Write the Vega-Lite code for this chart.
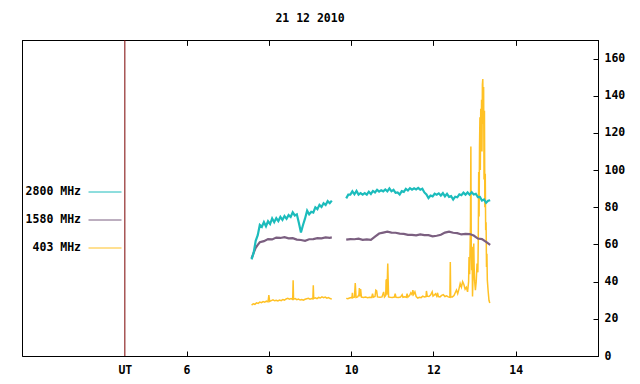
{
"$schema":"https://vega.github.io/schema/vega-lite/v6.json",
"width":576,"height":316,
"autosize":{"type":"none"},
"padding":{"left":22,"top":40,"right":42,"bottom":28},
"background":"white",
"title":{"text":"21 12 2010","anchor":"middle","frame":"group","offset":15,"fontSize":11.5,"font":"DejaVu Sans Mono","fontWeight":"bold","color":"black"},
"config":{
"view":{"stroke":"black","strokeWidth":1},
"axis":{"labelFont":"DejaVu Sans Mono","labelFontSize":11.5,"labelFontWeight":"bold","labelColor":"black","domainColor":"black","tickColor":"black","grid":false,"title":null,"labelOverlap":false,"labelFlush":false},
"legend":{"orient":"none","legendX":66,"legendY":135,"title":null,"symbolType":"stroke","symbolSize":1089,"symbolStrokeWidth":1,"labelAlign":"right","labelOffset":-41,"rowPadding":5,"padding":0,"labelFont":"DejaVu Sans Mono","labelFontSize":11.5,"labelFontWeight":"bold","labelColor":"black","labelBaseline":"middle"}
},
"data":{"values":[
{"f":"403 MHz","s":1,"t":7.58,"v":27.4},{"f":"403 MHz","s":1,"t":7.62,"v":28.1},{"f":"403 MHz","s":1,"t":7.66,"v":27.8},{"f":"403 MHz","s":1,"t":7.70,"v":28.6},{"f":"403 MHz","s":1,"t":7.74,"v":28.3},{"f":"403 MHz","s":1,"t":7.78,"v":29},{"f":"403 MHz","s":1,"t":7.82,"v":28.7},{"f":"403 MHz","s":1,"t":7.86,"v":29.3},{"f":"403 MHz","s":1,"t":7.90,"v":29},{"f":"403 MHz","s":1,"t":7.94,"v":29.5},{"f":"403 MHz","s":1,"t":7.98,"v":29.2},{"f":"403 MHz","s":1,"t":8.00,"v":32.7},{"f":"403 MHz","s":1,"t":8.02,"v":29.4},{"f":"403 MHz","s":1,"t":8.06,"v":29.8},{"f":"403 MHz","s":1,"t":8.10,"v":30.2},{"f":"403 MHz","s":1,"t":8.14,"v":29.7},{"f":"403 MHz","s":1,"t":8.18,"v":30},{"f":"403 MHz","s":1,"t":8.22,"v":29.6},{"f":"403 MHz","s":1,"t":8.26,"v":30.1},{"f":"403 MHz","s":1,"t":8.30,"v":29.8},{"f":"403 MHz","s":1,"t":8.34,"v":30.4},{"f":"403 MHz","s":1,"t":8.38,"v":30.1},{"f":"403 MHz","s":1,"t":8.42,"v":30.7},{"f":"403 MHz","s":1,"t":8.46,"v":31},{"f":"403 MHz","s":1,"t":8.50,"v":30.6},{"f":"403 MHz","s":1,"t":8.54,"v":30.9},{"f":"403 MHz","s":1,"t":8.58,"v":30.4},{"f":"403 MHz","s":1,"t":8.59,"v":40.8},{"f":"403 MHz","s":1,"t":8.60,"v":30.6},{"f":"403 MHz","s":1,"t":8.64,"v":30.9},{"f":"403 MHz","s":1,"t":8.68,"v":30.3},{"f":"403 MHz","s":1,"t":8.72,"v":30.6},{"f":"403 MHz","s":1,"t":8.76,"v":30.1},{"f":"403 MHz","s":1,"t":8.80,"v":30.4},{"f":"403 MHz","s":1,"t":8.84,"v":30},{"f":"403 MHz","s":1,"t":8.88,"v":30.5},{"f":"403 MHz","s":1,"t":8.92,"v":30.8},{"f":"403 MHz","s":1,"t":8.96,"v":31},{"f":"403 MHz","s":1,"t":9.00,"v":30.6},{"f":"403 MHz","s":1,"t":9.04,"v":30.9},{"f":"403 MHz","s":1,"t":9.07,"v":30.7},{"f":"403 MHz","s":1,"t":9.08,"v":38},{"f":"403 MHz","s":1,"t":9.09,"v":31},{"f":"403 MHz","s":1,"t":9.13,"v":31.3},{"f":"403 MHz","s":1,"t":9.17,"v":30.9},{"f":"403 MHz","s":1,"t":9.21,"v":31.5},{"f":"403 MHz","s":1,"t":9.25,"v":31.2},{"f":"403 MHz","s":1,"t":9.29,"v":31.8},{"f":"403 MHz","s":1,"t":9.33,"v":31.4},{"f":"403 MHz","s":1,"t":9.37,"v":31.7},{"f":"403 MHz","s":1,"t":9.41,"v":31.1},{"f":"403 MHz","s":1,"t":9.45,"v":31.4},{"f":"403 MHz","s":1,"t":9.49,"v":30.9},{"f":"403 MHz","s":1,"t":9.53,"v":30.6},
{"f":"403 MHz","s":2,"t":9.88,"v":31},{"f":"403 MHz","s":2,"t":9.92,"v":30.8},{"f":"403 MHz","s":2,"t":9.96,"v":31.2},{"f":"403 MHz","s":2,"t":10.00,"v":31.5},{"f":"403 MHz","s":2,"t":10.02,"v":31.3},{"f":"403 MHz","s":2,"t":10.03,"v":34},{"f":"403 MHz","s":2,"t":10.04,"v":31.4},{"f":"403 MHz","s":2,"t":10.08,"v":31.6},{"f":"403 MHz","s":2,"t":10.10,"v":39.3},{"f":"403 MHz","s":2,"t":10.12,"v":31.5},{"f":"403 MHz","s":2,"t":10.16,"v":31.8},{"f":"403 MHz","s":2,"t":10.19,"v":33},{"f":"403 MHz","s":2,"t":10.20,"v":36.6},{"f":"403 MHz","s":2,"t":10.21,"v":32},{"f":"403 MHz","s":2,"t":10.23,"v":36},{"f":"403 MHz","s":2,"t":10.25,"v":31.7},{"f":"403 MHz","s":2,"t":10.30,"v":31.5},{"f":"403 MHz","s":2,"t":10.35,"v":31.7},{"f":"403 MHz","s":2,"t":10.40,"v":31.4},{"f":"403 MHz","s":2,"t":10.45,"v":31.6},{"f":"403 MHz","s":2,"t":10.50,"v":31.5},{"f":"403 MHz","s":2,"t":10.52,"v":33.5},{"f":"403 MHz","s":2,"t":10.54,"v":31.6},{"f":"403 MHz","s":2,"t":10.58,"v":32},{"f":"403 MHz","s":2,"t":10.60,"v":35.4},{"f":"403 MHz","s":2,"t":10.62,"v":35},{"f":"403 MHz","s":2,"t":10.64,"v":31.8},{"f":"403 MHz","s":2,"t":10.70,"v":31.6},{"f":"403 MHz","s":2,"t":10.75,"v":31.8},{"f":"403 MHz","s":2,"t":10.79,"v":34.5},{"f":"403 MHz","s":2,"t":10.81,"v":31.7},{"f":"403 MHz","s":2,"t":10.84,"v":32.5},{"f":"403 MHz","s":2,"t":10.85,"v":40.8},{"f":"403 MHz","s":2,"t":10.86,"v":41},{"f":"403 MHz","s":2,"t":10.87,"v":33},{"f":"403 MHz","s":2,"t":10.89,"v":49.7},{"f":"403 MHz","s":2,"t":10.91,"v":31.8},{"f":"403 MHz","s":2,"t":10.95,"v":31.6},{"f":"403 MHz","s":2,"t":11.00,"v":31.5},{"f":"403 MHz","s":2,"t":11.05,"v":31.7},{"f":"403 MHz","s":2,"t":11.07,"v":33.5},{"f":"403 MHz","s":2,"t":11.09,"v":31.6},{"f":"403 MHz","s":2,"t":11.15,"v":31.5},{"f":"403 MHz","s":2,"t":11.20,"v":31.7},{"f":"403 MHz","s":2,"t":11.24,"v":33},{"f":"403 MHz","s":2,"t":11.26,"v":31.6},{"f":"403 MHz","s":2,"t":11.30,"v":31.8},{"f":"403 MHz","s":2,"t":11.34,"v":31.6},{"f":"403 MHz","s":2,"t":11.36,"v":33.5},{"f":"403 MHz","s":2,"t":11.38,"v":31.7},{"f":"403 MHz","s":2,"t":11.42,"v":32.5},{"f":"403 MHz","s":2,"t":11.45,"v":34},{"f":"403 MHz","s":2,"t":11.48,"v":33},{"f":"403 MHz","s":2,"t":11.50,"v":35.4},{"f":"403 MHz","s":2,"t":11.52,"v":33.2},{"f":"403 MHz","s":2,"t":11.55,"v":34.5},{"f":"403 MHz","s":2,"t":11.58,"v":32},{"f":"403 MHz","s":2,"t":11.62,"v":31.2},{"f":"403 MHz","s":2,"t":11.66,"v":31.6},{"f":"403 MHz","s":2,"t":11.70,"v":31.4},{"f":"403 MHz","s":2,"t":11.74,"v":32.2},{"f":"403 MHz","s":2,"t":11.78,"v":31.8},{"f":"403 MHz","s":2,"t":11.82,"v":32},{"f":"403 MHz","s":2,"t":11.83,"v":35},{"f":"403 MHz","s":2,"t":11.85,"v":32.2},{"f":"403 MHz","s":2,"t":11.89,"v":32},{"f":"403 MHz","s":2,"t":11.93,"v":32.8},{"f":"403 MHz","s":2,"t":11.97,"v":34.5},{"f":"403 MHz","s":2,"t":11.99,"v":32.2},{"f":"403 MHz","s":2,"t":12.03,"v":33},{"f":"403 MHz","s":2,"t":12.05,"v":33.5},{"f":"403 MHz","s":2,"t":12.08,"v":32.2},{"f":"403 MHz","s":2,"t":12.10,"v":34},{"f":"403 MHz","s":2,"t":12.12,"v":32},{"f":"403 MHz","s":2,"t":12.16,"v":31.8},{"f":"403 MHz","s":2,"t":12.20,"v":32.6},{"f":"403 MHz","s":2,"t":12.24,"v":33},{"f":"403 MHz","s":2,"t":12.28,"v":32},{"f":"403 MHz","s":2,"t":12.32,"v":32.4},{"f":"403 MHz","s":2,"t":12.36,"v":31.8},{"f":"403 MHz","s":2,"t":12.40,"v":31.6},{"f":"403 MHz","s":2,"t":12.41,"v":50.5},{"f":"403 MHz","s":2,"t":12.42,"v":31.8},{"f":"403 MHz","s":2,"t":12.46,"v":31.8},{"f":"403 MHz","s":2,"t":12.50,"v":32.5},{"f":"403 MHz","s":2,"t":12.53,"v":34},{"f":"403 MHz","s":2,"t":12.56,"v":35.5},{"f":"403 MHz","s":2,"t":12.59,"v":33.5},{"f":"403 MHz","s":2,"t":12.62,"v":36},{"f":"403 MHz","s":2,"t":12.65,"v":39},{"f":"403 MHz","s":2,"t":12.68,"v":37},{"f":"403 MHz","s":2,"t":12.71,"v":40},{"f":"403 MHz","s":2,"t":12.74,"v":38.5},{"f":"403 MHz","s":2,"t":12.77,"v":36},{"f":"403 MHz","s":2,"t":12.80,"v":37},{"f":"403 MHz","s":2,"t":12.83,"v":34.5},{"f":"403 MHz","s":2,"t":12.855,"v":40},{"f":"403 MHz","s":2,"t":12.865,"v":53.3},{"f":"403 MHz","s":2,"t":12.88,"v":44},{"f":"403 MHz","s":2,"t":12.90,"v":70},{"f":"403 MHz","s":2,"t":12.91,"v":112.7},{"f":"403 MHz","s":2,"t":12.92,"v":58},{"f":"403 MHz","s":2,"t":12.93,"v":46.2},{"f":"403 MHz","s":2,"t":12.94,"v":58.8},{"f":"403 MHz","s":2,"t":12.95,"v":32},{"f":"403 MHz","s":2,"t":12.965,"v":45},{"f":"403 MHz","s":2,"t":12.98,"v":60.5},{"f":"403 MHz","s":2,"t":12.99,"v":48},{"f":"403 MHz","s":2,"t":13.00,"v":40.8},{"f":"403 MHz","s":2,"t":13.02,"v":35.4},{"f":"403 MHz","s":2,"t":13.04,"v":40},{"f":"403 MHz","s":2,"t":13.06,"v":49.7},{"f":"403 MHz","s":2,"t":13.08,"v":45},{"f":"403 MHz","s":2,"t":13.09,"v":62},{"f":"403 MHz","s":2,"t":13.10,"v":99},{"f":"403 MHz","s":2,"t":13.11,"v":75},{"f":"403 MHz","s":2,"t":13.12,"v":112},{"f":"403 MHz","s":2,"t":13.13,"v":128.5},{"f":"403 MHz","s":2,"t":13.14,"v":100},{"f":"403 MHz","s":2,"t":13.15,"v":133},{"f":"403 MHz","s":2,"t":13.16,"v":115},{"f":"403 MHz","s":2,"t":13.17,"v":137.8},{"f":"403 MHz","s":2,"t":13.18,"v":110},{"f":"403 MHz","s":2,"t":13.19,"v":146},{"f":"403 MHz","s":2,"t":13.20,"v":149},{"f":"403 MHz","s":2,"t":13.21,"v":125},{"f":"403 MHz","s":2,"t":13.22,"v":144.7},{"f":"403 MHz","s":2,"t":13.23,"v":95},{"f":"403 MHz","s":2,"t":13.24,"v":132},{"f":"403 MHz","s":2,"t":13.25,"v":80},{"f":"403 MHz","s":2,"t":13.26,"v":98},{"f":"403 MHz","s":2,"t":13.27,"v":67.6},{"f":"403 MHz","s":2,"t":13.28,"v":72},{"f":"403 MHz","s":2,"t":13.29,"v":47.9},{"f":"403 MHz","s":2,"t":13.30,"v":55},{"f":"403 MHz","s":2,"t":13.31,"v":40.8},{"f":"403 MHz","s":2,"t":13.33,"v":35},{"f":"403 MHz","s":2,"t":13.35,"v":30},{"f":"403 MHz","s":2,"t":13.37,"v":28.5},
{"f":"1580 MHz","s":1,"t":7.58,"v":52.5},{"f":"1580 MHz","s":1,"t":7.63,"v":55.5},{"f":"1580 MHz","s":1,"t":7.68,"v":58.2},{"f":"1580 MHz","s":1,"t":7.73,"v":59.8},{"f":"1580 MHz","s":1,"t":7.78,"v":61.2},{"f":"1580 MHz","s":1,"t":7.88,"v":61.8},{"f":"1580 MHz","s":1,"t":7.98,"v":62.9},{"f":"1580 MHz","s":1,"t":8.08,"v":62.7},{"f":"1580 MHz","s":1,"t":8.18,"v":63.7},{"f":"1580 MHz","s":1,"t":8.28,"v":63.5},{"f":"1580 MHz","s":1,"t":8.38,"v":63.9},{"f":"1580 MHz","s":1,"t":8.48,"v":63.3},{"f":"1580 MHz","s":1,"t":8.58,"v":63.4},{"f":"1580 MHz","s":1,"t":8.68,"v":62.6},{"f":"1580 MHz","s":1,"t":8.78,"v":62.4},{"f":"1580 MHz","s":1,"t":8.88,"v":62},{"f":"1580 MHz","s":1,"t":8.98,"v":62.8},{"f":"1580 MHz","s":1,"t":9.08,"v":62.9},{"f":"1580 MHz","s":1,"t":9.18,"v":63.4},{"f":"1580 MHz","s":1,"t":9.28,"v":63.3},{"f":"1580 MHz","s":1,"t":9.38,"v":63.8},{"f":"1580 MHz","s":1,"t":9.48,"v":63.6},{"f":"1580 MHz","s":1,"t":9.53,"v":63.8},
{"f":"1580 MHz","s":2,"t":9.88,"v":62.6},{"f":"1580 MHz","s":2,"t":9.98,"v":62.9},{"f":"1580 MHz","s":2,"t":10.08,"v":62.8},{"f":"1580 MHz","s":2,"t":10.18,"v":63.1},{"f":"1580 MHz","s":2,"t":10.28,"v":62.5},{"f":"1580 MHz","s":2,"t":10.38,"v":62.7},{"f":"1580 MHz","s":2,"t":10.48,"v":62.5},{"f":"1580 MHz","s":2,"t":10.58,"v":64.2},{"f":"1580 MHz","s":2,"t":10.68,"v":65.9},{"f":"1580 MHz","s":2,"t":10.78,"v":66.4},{"f":"1580 MHz","s":2,"t":10.88,"v":66.9},{"f":"1580 MHz","s":2,"t":10.98,"v":66.4},{"f":"1580 MHz","s":2,"t":11.08,"v":66.3},{"f":"1580 MHz","s":2,"t":11.18,"v":65.8},{"f":"1580 MHz","s":2,"t":11.28,"v":65.7},{"f":"1580 MHz","s":2,"t":11.38,"v":65.2},{"f":"1580 MHz","s":2,"t":11.48,"v":65.2},{"f":"1580 MHz","s":2,"t":11.58,"v":64.9},{"f":"1580 MHz","s":2,"t":11.68,"v":65.4},{"f":"1580 MHz","s":2,"t":11.78,"v":65},{"f":"1580 MHz","s":2,"t":11.88,"v":65},{"f":"1580 MHz","s":2,"t":11.98,"v":64.4},{"f":"1580 MHz","s":2,"t":12.08,"v":64.7},{"f":"1580 MHz","s":2,"t":12.18,"v":65.2},{"f":"1580 MHz","s":2,"t":12.28,"v":66.4},{"f":"1580 MHz","s":2,"t":12.38,"v":66.9},{"f":"1580 MHz","s":2,"t":12.48,"v":66.3},{"f":"1580 MHz","s":2,"t":12.58,"v":66.1},{"f":"1580 MHz","s":2,"t":12.68,"v":65.4},{"f":"1580 MHz","s":2,"t":12.78,"v":65.7},{"f":"1580 MHz","s":2,"t":12.88,"v":65.6},{"f":"1580 MHz","s":2,"t":12.98,"v":64.8},{"f":"1580 MHz","s":2,"t":13.08,"v":63.2},{"f":"1580 MHz","s":2,"t":13.18,"v":62.9},{"f":"1580 MHz","s":2,"t":13.28,"v":61.4},{"f":"1580 MHz","s":2,"t":13.38,"v":59.8},
{"f":"2800 MHz","s":1,"t":7.58,"v":52},{"f":"2800 MHz","s":1,"t":7.63,"v":55.5},{"f":"2800 MHz","s":1,"t":7.68,"v":62},{"f":"2800 MHz","s":1,"t":7.73,"v":65},{"f":"2800 MHz","s":1,"t":7.78,"v":70.5},{"f":"2800 MHz","s":1,"t":7.83,"v":69.5},{"f":"2800 MHz","s":1,"t":7.88,"v":72},{"f":"2800 MHz","s":1,"t":7.93,"v":69.8},{"f":"2800 MHz","s":1,"t":7.98,"v":72.5},{"f":"2800 MHz","s":1,"t":8.03,"v":71},{"f":"2800 MHz","s":1,"t":8.08,"v":74},{"f":"2800 MHz","s":1,"t":8.13,"v":72},{"f":"2800 MHz","s":1,"t":8.18,"v":74.2},{"f":"2800 MHz","s":1,"t":8.23,"v":72.6},{"f":"2800 MHz","s":1,"t":8.28,"v":74.8},{"f":"2800 MHz","s":1,"t":8.33,"v":73.2},{"f":"2800 MHz","s":1,"t":8.38,"v":75.3},{"f":"2800 MHz","s":1,"t":8.43,"v":73.8},{"f":"2800 MHz","s":1,"t":8.48,"v":75.8},{"f":"2800 MHz","s":1,"t":8.53,"v":74.8},{"f":"2800 MHz","s":1,"t":8.58,"v":77.3},{"f":"2800 MHz","s":1,"t":8.63,"v":75.6},{"f":"2800 MHz","s":1,"t":8.68,"v":76.2},{"f":"2800 MHz","s":1,"t":8.73,"v":71.5},{"f":"2800 MHz","s":1,"t":8.78,"v":66.5},{"f":"2800 MHz","s":1,"t":8.83,"v":70.5},{"f":"2800 MHz","s":1,"t":8.88,"v":74},{"f":"2800 MHz","s":1,"t":8.93,"v":78.2},{"f":"2800 MHz","s":1,"t":8.98,"v":76.2},{"f":"2800 MHz","s":1,"t":9.03,"v":77.6},{"f":"2800 MHz","s":1,"t":9.08,"v":77.2},{"f":"2800 MHz","s":1,"t":9.13,"v":80},{"f":"2800 MHz","s":1,"t":9.18,"v":79},{"f":"2800 MHz","s":1,"t":9.23,"v":81.3},{"f":"2800 MHz","s":1,"t":9.28,"v":80.2},{"f":"2800 MHz","s":1,"t":9.33,"v":82.2},{"f":"2800 MHz","s":1,"t":9.38,"v":81.2},{"f":"2800 MHz","s":1,"t":9.43,"v":83.3},{"f":"2800 MHz","s":1,"t":9.48,"v":82.2},{"f":"2800 MHz","s":1,"t":9.53,"v":83.6},
{"f":"2800 MHz","s":2,"t":9.88,"v":84.8},{"f":"2800 MHz","s":2,"t":9.93,"v":86.8},{"f":"2800 MHz","s":2,"t":9.98,"v":86.8},{"f":"2800 MHz","s":2,"t":10.03,"v":88.6},{"f":"2800 MHz","s":2,"t":10.08,"v":87},{"f":"2800 MHz","s":2,"t":10.13,"v":88.8},{"f":"2800 MHz","s":2,"t":10.18,"v":86.8},{"f":"2800 MHz","s":2,"t":10.23,"v":87.6},{"f":"2800 MHz","s":2,"t":10.28,"v":86.8},{"f":"2800 MHz","s":2,"t":10.33,"v":87.6},{"f":"2800 MHz","s":2,"t":10.38,"v":86.8},{"f":"2800 MHz","s":2,"t":10.43,"v":88.4},{"f":"2800 MHz","s":2,"t":10.48,"v":87.2},{"f":"2800 MHz","s":2,"t":10.53,"v":88.8},{"f":"2800 MHz","s":2,"t":10.58,"v":88},{"f":"2800 MHz","s":2,"t":10.63,"v":89.4},{"f":"2800 MHz","s":2,"t":10.68,"v":88.4},{"f":"2800 MHz","s":2,"t":10.73,"v":89.2},{"f":"2800 MHz","s":2,"t":10.78,"v":88.6},{"f":"2800 MHz","s":2,"t":10.83,"v":89.6},{"f":"2800 MHz","s":2,"t":10.88,"v":88.6},{"f":"2800 MHz","s":2,"t":10.93,"v":90.2},{"f":"2800 MHz","s":2,"t":10.98,"v":88.6},{"f":"2800 MHz","s":2,"t":11.03,"v":89.4},{"f":"2800 MHz","s":2,"t":11.08,"v":87.8},{"f":"2800 MHz","s":2,"t":11.13,"v":88},{"f":"2800 MHz","s":2,"t":11.18,"v":86.9},{"f":"2800 MHz","s":2,"t":11.23,"v":88.7},{"f":"2800 MHz","s":2,"t":11.28,"v":88.3},{"f":"2800 MHz","s":2,"t":11.33,"v":89.9},{"f":"2800 MHz","s":2,"t":11.38,"v":89},{"f":"2800 MHz","s":2,"t":11.43,"v":90.3},{"f":"2800 MHz","s":2,"t":11.48,"v":89.5},{"f":"2800 MHz","s":2,"t":11.53,"v":90.2},{"f":"2800 MHz","s":2,"t":11.58,"v":89.6},{"f":"2800 MHz","s":2,"t":11.63,"v":90.4},{"f":"2800 MHz","s":2,"t":11.68,"v":89.5},{"f":"2800 MHz","s":2,"t":11.73,"v":90},{"f":"2800 MHz","s":2,"t":11.78,"v":88},{"f":"2800 MHz","s":2,"t":11.83,"v":86.9},{"f":"2800 MHz","s":2,"t":11.88,"v":85},{"f":"2800 MHz","s":2,"t":11.93,"v":86.3},{"f":"2800 MHz","s":2,"t":11.98,"v":85.9},{"f":"2800 MHz","s":2,"t":12.03,"v":87.3},{"f":"2800 MHz","s":2,"t":12.08,"v":86.8},{"f":"2800 MHz","s":2,"t":12.13,"v":87.5},{"f":"2800 MHz","s":2,"t":12.18,"v":86.3},{"f":"2800 MHz","s":2,"t":12.23,"v":87.6},{"f":"2800 MHz","s":2,"t":12.28,"v":85.9},{"f":"2800 MHz","s":2,"t":12.33,"v":87.2},{"f":"2800 MHz","s":2,"t":12.38,"v":85.6},{"f":"2800 MHz","s":2,"t":12.43,"v":86},{"f":"2800 MHz","s":2,"t":12.48,"v":84.2},{"f":"2800 MHz","s":2,"t":12.53,"v":85.7},{"f":"2800 MHz","s":2,"t":12.58,"v":85.4},{"f":"2800 MHz","s":2,"t":12.63,"v":87},{"f":"2800 MHz","s":2,"t":12.68,"v":86.5},{"f":"2800 MHz","s":2,"t":12.73,"v":87.9},{"f":"2800 MHz","s":2,"t":12.78,"v":86.8},{"f":"2800 MHz","s":2,"t":12.83,"v":88},{"f":"2800 MHz","s":2,"t":12.88,"v":86.8},{"f":"2800 MHz","s":2,"t":12.93,"v":88.1},{"f":"2800 MHz","s":2,"t":12.98,"v":86.9},{"f":"2800 MHz","s":2,"t":13.03,"v":87.3},{"f":"2800 MHz","s":2,"t":13.08,"v":85.5},{"f":"2800 MHz","s":2,"t":13.13,"v":85.6},{"f":"2800 MHz","s":2,"t":13.18,"v":83.6},{"f":"2800 MHz","s":2,"t":13.23,"v":84.2},{"f":"2800 MHz","s":2,"t":13.28,"v":82.4},{"f":"2800 MHz","s":2,"t":13.33,"v":83.5},{"f":"2800 MHz","s":2,"t":13.38,"v":83.8}
]},
"encoding":{
"x":{"field":"t","type":"quantitative","scale":{"domain":[2,16],"nice":false,"zero":false},"axis":{"orient":"top","values":[6,8,10,12,14],"labels":false,"tickSize":-5}},
"y":{"field":"v","type":"quantitative","scale":{"domain":[0,170],"nice":false},"axis":{"orient":"right","values":[0,20,40,60,80,100,120,140,160],"tickSize":-5,"labelPadding":11}},
"color":{"field":"f","type":"nominal","scale":{"domain":["2800 MHz","1580 MHz","403 MHz"],"range":["#1cbcbc","#7b5f80","#ffc125"]}},
"detail":{"field":"s","type":"nominal"}
},
"layer":[
{"data":{"values":[{"t":4.5}]},
"mark":{"type":"rule","color":"#7a0000","strokeWidth":1},
"encoding":{"x":{"field":"t","type":"quantitative",
"axis":{"orient":"bottom","values":[4.5,6,8,10,12,14],"labelExpr":"datum.value == 4.5 ? 'UT' : datum.label","tickSize":-5,"labelPadding":13,"tickColor":{"condition":{"test":"datum.value == 4.5","value":"transparent"},"value":"black"}}},"y":null,"color":null,"detail":null}},
{"transform":[{"filter":"datum.f == '403 MHz'"}],"mark":{"type":"line","strokeWidth":1.5}},
{"transform":[{"filter":"datum.f == '1580 MHz'"}],"mark":{"type":"line","strokeWidth":2.2}},
{"transform":[{"filter":"datum.f == '2800 MHz'"}],"mark":{"type":"line","strokeWidth":2.2}}
]
}
